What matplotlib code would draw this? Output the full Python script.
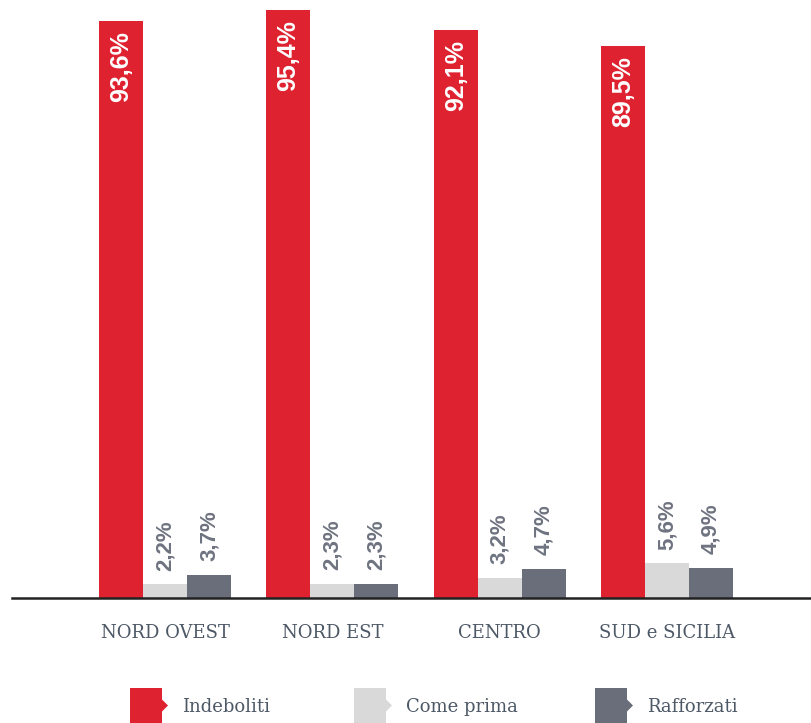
import numpy as np
import matplotlib.pyplot as plt
from matplotlib.patches import Polygon

regions = ["NORD OVEST", "NORD EST", "CENTRO", "SUD e SICILIA"]
series = ["Indeboliti", "Come prima", "Rafforzati"]
indeboliti = [93.6, 95.4, 92.1, 89.5]
come_prima = [2.2, 2.3, 3.2, 5.6]
rafforzati = [3.7, 2.3, 4.7, 4.9]

COLORS = ["#df2230", "#d9d9d9", "#696e7a"]
LABEL_GRAY = "#6e7380"
TEXT_COLOR = "#4d5866"
VALUE_FONT = ["Liberation Sans", "DejaVu Sans"]
W, H = 811, 723

fig = plt.figure(figsize=(W / 100, H / 100), dpi=100)
fig.patch.set_facecolor("white")

# axes placed in pixel terms: baseline at y=598, top at y=10, x from 12 to 811
ax = fig.add_axes([12 / W, (H - 598) / H, (W - 12) / W, 588 / H])

x = np.arange(len(regions))
bw = 0.263
values = [indeboliti, come_prima, rafforzati]
for k, (vals, col) in enumerate(zip(values, COLORS)):
    xs = x + (k - 1) * bw
    ax.bar(xs, vals, width=bw, color=col, edgecolor="none", zorder=2)
    for xi, v in zip(xs, vals):
        txt = f"{v:.1f}%".replace(".", ",")
        if k == 0:
            ax.annotate(txt, (xi, v), xytext=(0, -7), textcoords="offset points",
                        rotation=90, ha="center", va="top", color="white",
                        fontsize=18, fontweight="bold", family=VALUE_FONT)
        else:
            ax.annotate(txt, (xi, v), xytext=(0, 10), textcoords="offset points",
                        rotation=90, ha="center", va="bottom", color=LABEL_GRAY,
                        fontsize=16, fontweight="bold", family=VALUE_FONT)

ax.set_xlim(-0.915, 3.86)
ax.set_ylim(0, 95.4)
ax.set_yticks([])
ax.set_xticks(x)
ax.set_xticklabels(regions, family="DejaVu Serif", fontsize=13, color=TEXT_COLOR)
ax.tick_params(axis="x", length=0, pad=19)
for s in ["top", "right", "left"]:
    ax.spines[s].set_visible(False)
ax.spines["bottom"].set_color("#222222")
ax.spines["bottom"].set_linewidth(1.8)
ax.patch.set_alpha(0)

# legend drawn in pixel coordinates on an overlay axes
lax = fig.add_axes([0, 0, 1, 1])
lax.set_xlim(0, W)
lax.set_ylim(H, 0)
lax.axis("off")
legend_x = [130, 354, 595]
for lx, col, name in zip(legend_x, COLORS, series):
    top, bot, right = 688, 723, lx + 32
    mid = (top + bot) / 2
    pts = [(lx, top), (right, top), (right, mid - 6), (right + 6, mid),
           (right, mid + 6), (right, bot), (lx, bot)]
    lax.add_patch(Polygon(pts, closed=True, color=col, lw=0))
    lax.text(right + 20, 707, name, family="DejaVu Serif", fontsize=13,
             color=TEXT_COLOR, va="center", ha="left")

fig.savefig("out.png", dpi=100, facecolor="white")
